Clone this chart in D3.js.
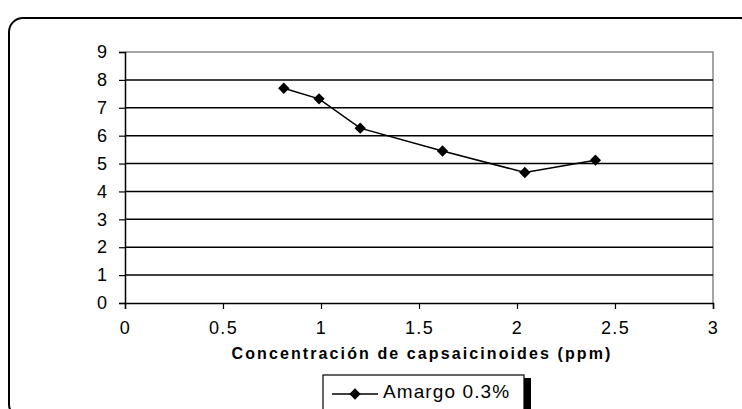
<!DOCTYPE html>
<html>
<head>
<meta charset="utf-8">
<script src="https://cdn.jsdelivr.net/npm/d3@7"></script>
<style>
  body { margin: 0; background: #fff; }
  text { font-family: "Liberation Sans", Arial, sans-serif; }
</style>
</head>
<body>
<script>
// data
var conc   = [0.81, 0.99, 1.2, 1.62, 2.04, 2.4];
var amargo = [7.7, 7.32, 6.27, 5.45, 4.68, 5.12];
var xTicks = [0, 0.5, 1, 1.5, 2, 2.5, 3];
var yTicks = [0, 1, 2, 3, 4, 5, 6, 7, 8, 9];
var seriesName = "Amargo 0.3%";
var xTitle = "Concentración de capsaicinoides (ppm)";

var width = 742, height = 409;
var plotL = 125, plotR = 713, plotT = 52, plotB = 303;

var svg = d3.select("body").append("svg")
    .attr("width", width)
    .attr("height", height);

// outer rounded frame
svg.append("rect")
  .attr("x", 9).attr("y", 18)
  .attr("width", 745).attr("height", 400)
  .attr("rx", 14)
  .attr("fill", "none").attr("stroke", "#000").attr("stroke-width", 2);

var x = d3.scaleLinear().domain([0, 3]).range([plotL, plotR]);
var y = d3.scaleLinear().domain([0, 9]).range([plotB, plotT]);

// plot frame (gray top / right)
svg.append("path")
  .attr("d", "M" + plotL + "," + plotT + "H" + plotR + "V" + plotB)
  .attr("fill", "none").attr("stroke", "#888").attr("stroke-width", 1.5);

// gridlines
svg.append("g").selectAll("line")
  .data(yTicks.filter(function(d) { return d > 0 && d < 9; }))
  .enter().append("line")
  .attr("x1", plotL).attr("x2", plotR)
  .attr("y1", function(d) { return y(d); })
  .attr("y2", function(d) { return y(d); })
  .attr("stroke", "#000").attr("stroke-width", 1.5);

var yAxis = svg.append("g")
  .attr("transform", "translate(" + plotL + ",0)")
  .call(d3.axisLeft(y).tickValues(yTicks).tickSize(6).tickPadding(12).tickFormat(d3.format("d")));

var xAxis = svg.append("g")
  .attr("transform", "translate(0," + plotB + ")")
  .call(d3.axisBottom(x).tickValues(xTicks).tickSize(6).tickPadding(12).tickFormat(function(d) { return String(d); }));

[yAxis, xAxis].forEach(function(a) {
  a.attr("font-size", null).attr("font-family", null);
  a.select(".domain").attr("stroke", "#000").attr("stroke-width", 1.5);
  a.selectAll(".tick line").attr("stroke", "#000").attr("stroke-width", 1.2);
  a.selectAll(".tick text").attr("fill", "#000");
});
yAxis.selectAll(".tick text").style("font-size", "18px");
xAxis.selectAll(".tick text").style("font-size", "18px").style("letter-spacing", "1.4px");

svg.append("text")
  .attr("x", x(1.5) + 3).attr("y", 359)
  .attr("text-anchor", "middle")
  .style("font-size", "16px").style("font-weight", "bold")
  .style("letter-spacing", "2.1px")
  .text(xTitle);

var pts = conc.map(function(c, i) { return [c, amargo[i]]; });

svg.append("path")
  .datum(pts)
  .attr("fill", "none").attr("stroke", "#000").attr("stroke-width", 1.5)
  .attr("d", d3.line().x(function(d) { return x(d[0]); }).y(function(d) { return y(d[1]); }));

var diamond = d3.symbol().type(d3.symbolSquare).size(64);
svg.append("g").selectAll("path")
  .data(pts)
  .enter().append("path")
  .attr("d", diamond)
  .attr("transform", function(d) { return "translate(" + x(d[0]) + "," + y(d[1]) + ") rotate(45)"; })
  .attr("fill", "#000");

// legend
var lg = svg.append("g").attr("transform", "translate(323,375)");
lg.append("rect").attr("x", 3).attr("y", 3).attr("width", 205).attr("height", 40).attr("fill", "#000");
lg.append("rect").attr("width", 201).attr("height", 40)
  .attr("fill", "#fff").attr("stroke", "#000").attr("stroke-width", 1.2);
lg.append("line").attr("x1", 9).attr("x2", 55).attr("y1", 19).attr("y2", 19)
  .attr("stroke", "#000").attr("stroke-width", 1.5);
lg.append("path").attr("d", diamond).attr("transform", "translate(32,19) rotate(45)").attr("fill", "#000");
lg.append("text").attr("x", 60).attr("y", 23)
  .style("font-size", "19px").style("letter-spacing", "1.1px").text(seriesName);
</script>
</body>
</html>
